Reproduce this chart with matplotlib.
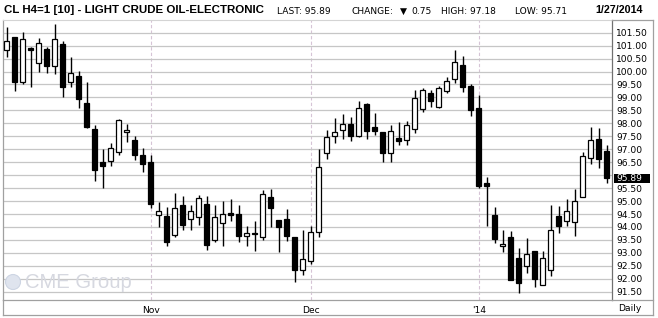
import numpy as np
import pandas as pd
import matplotlib
matplotlib.use("Agg")
import matplotlib.pyplot as plt
from matplotlib.patches import Rectangle, Circle
from matplotlib.lines import Line2D
import matplotlib.transforms as mtransforms
from matplotlib import font_manager as fm

# ---------------- data ----------------
holidays = ["2013-11-28", "2013-12-25", "2014-01-01", "2014-01-20"]
dates = [d for d in pd.bdate_range("2013-10-08", "2014-01-27") if d.strftime("%Y-%m-%d") not in holidays]

opens = [100.83, 101.32, 99.58, 100.90, 100.32, 100.86, 100.23, 101.06, 99.58, 99.83,
         98.77, 97.77, 96.50, 96.56, 96.91, 97.65, 97.36, 96.78, 96.50, 94.45,
         94.41, 93.68, 94.84, 94.30, 94.37, 94.89, 93.49, 94.15, 94.53, 94.50,
         93.64, 93.77, 93.60, 95.16, 94.26, 94.31, 93.60, 92.35, 92.70, 93.80,
         96.84, 97.50, 97.73, 97.96, 97.52, 98.75, 97.86, 97.67, 96.84, 97.43,
         97.34, 97.77, 98.54, 99.16, 98.62, 99.24, 99.70, 100.25, 99.43, 98.59,
         95.70, 94.46, 93.25, 93.61, 92.79, 92.49, 93.08, 91.75, 92.33, 94.42,
         94.24, 94.20, 95.17, 96.65, 97.40, 96.93]
highs = [101.73, 101.35, 101.53, 100.94, 101.28, 100.96, 101.84, 101.19, 100.55, 100.02,
         99.58, 97.92, 97.00, 97.23, 98.17, 97.96, 97.52, 97.05, 96.78, 94.97,
         94.77, 95.31, 95.20, 94.85, 95.24, 95.20, 94.85, 94.99, 95.07, 94.85,
         94.03, 94.22, 95.43, 95.46, 94.27, 94.69, 93.61, 93.87, 94.03, 97.01,
         97.74, 98.21, 98.36, 98.23, 98.86, 98.80, 98.40, 97.68, 97.92, 98.05,
         98.10, 99.29, 99.35, 99.28, 99.45, 99.80, 100.82, 100.59, 99.52, 99.09,
         95.94, 94.76, 93.87, 93.83, 93.18, 93.56, 93.09, 93.08, 94.85, 94.81,
         95.07, 95.47, 96.88, 97.85, 97.81, 97.18]
lows = [100.57, 99.24, 99.51, 99.42, 99.99, 99.96, 99.89, 99.03, 99.42, 98.60,
        97.81, 95.77, 95.52, 96.36, 96.78, 97.29, 96.58, 96.13, 94.74, 94.00,
        93.25, 93.62, 93.87, 93.90, 94.09, 93.12, 93.41, 93.28, 94.22, 93.41,
        93.25, 93.09, 93.49, 93.99, 93.05, 93.46, 91.87, 92.16, 92.58, 93.61,
        96.64, 97.25, 97.41, 97.31, 97.48, 97.38, 97.56, 96.52, 96.52, 97.18,
        97.15, 97.62, 98.45, 98.64, 98.58, 99.16, 99.57, 99.22, 98.30, 95.52,
        94.05, 93.39, 93.02, 91.95, 91.46, 92.21, 91.67, 91.74, 92.12, 93.75,
        94.05, 93.66, 95.14, 96.42, 96.26, 95.71]
closes = [101.19, 99.58, 101.25, 100.82, 101.11, 100.23, 101.25, 99.42, 99.96, 98.95,
          97.87, 96.20, 96.36, 97.05, 98.13, 97.74, 96.77, 96.44, 94.90, 94.61,
          93.41, 94.72, 94.09, 94.61, 95.11, 93.32, 94.37, 94.49, 94.45, 93.64,
          93.76, 93.72, 95.26, 94.75, 94.01, 93.66, 92.35, 92.75, 93.80, 96.30,
          97.46, 97.67, 97.96, 97.52, 98.58, 97.69, 97.72, 96.87, 97.69, 97.33,
          97.92, 98.97, 99.28, 98.85, 99.35, 99.62, 100.38, 99.40, 98.53, 95.59,
          95.59, 93.55, 93.34, 91.97, 91.85, 92.94, 91.98, 92.79, 93.87, 94.05,
          94.60, 94.99, 96.73, 97.36, 96.64, 95.89]

y_ticks = [91.5, 92.0, 92.5, 93.0, 93.5, 94.0, 94.5, 95.0, 95.5, 96.0, 96.5,
           97.0, 97.5, 98.0, 98.5, 99.0, 99.5, 100.0, 100.5, 101.0, 101.5]
month_labels = {11: "Nov", 12: "Dec", 1: "'14"}

title = "CL H4=1 [10] - LIGHT CRUDE OIL-ELECTRONIC"
last_price = 95.89
change = 0.75
day_high = 97.18
day_low = 95.71
date_label = "1/27/2014"

# ---------------- figure ----------------
W, H = 658, 318
fig = plt.figure(figsize=(W / 100, H / 100), dpi=100)
fig.patch.set_facecolor("white")

def fx(px):
    return px / W

def fy(py):
    return 1 - py / H

ax = fig.add_axes([fx(3), fy(300), fx(612) - fx(3), fy(20) - fy(300)])
ax.set_facecolor("white")

n = len(opens)
xs = np.arange(n)
ax.set_xlim(-0.4625, 75.66)
ax.set_ylim(91.18, 101.99)

# grid
ax.set_yticks(y_ticks)
ax.grid(axis="y", color="#c6c6c6", lw=0.9, zorder=0)
month_pos = [i for i in range(1, n) if dates[i].month != dates[i - 1].month]
for p in month_pos:
    ax.axvline(p, color="#d6c4d6", lw=0.8, ls=(0, (3, 2)), zorder=0.5)

# watermark (globe + text)
fig.patches.append(Circle((13 / 100, (H - 282) / 100), 0.075, transform=fig.dpi_scale_trans,
                          facecolor="#dfe4ee", edgecolor="#cdd5e3", lw=0.8, zorder=0.2))

# candles
bw = 0.625
for i in range(n):
    o, h, l, c = opens[i], highs[i], lows[i], closes[i]
    ax.vlines(xs[i], l, h, color="black", lw=1.0, zorder=3)
    up = c >= o
    bottom = min(o, c)
    height = max(abs(c - o), 0.04)
    ax.add_patch(Rectangle((xs[i] - bw / 2, bottom), bw, height,
                           facecolor="white" if up else "black",
                           edgecolor="black", lw=0.9, zorder=4))

# axis labels on the right
ax.yaxis.tick_right()
ax.set_yticklabels(["" if abs(v - last_price) < 0.3 else f"{v:.2f}" for v in y_ticks],
                   fontsize=6.6, family="DejaVu Sans")
ax.tick_params(axis="y", length=0, pad=3)
ax.set_xticks(month_pos)
ax.set_xticklabels([month_labels[dates[p].month] for p in month_pos],
                   fontsize=6.6, family="DejaVu Sans")
ax.tick_params(axis="x", length=0, pad=4)

for side in ["left", "bottom"]:
    ax.spines[side].set_color("#a0a0a0")
    ax.spines[side].set_linewidth(0.9)
ax.spines["right"].set_color("#707070")
ax.spines["right"].set_linewidth(0.9)
ax.spines["top"].set_color("#d4d4d4")
ax.spines["top"].set_linewidth(0.8)

# last price box
bt = mtransforms.blended_transform_factory(fig.transFigure, ax.transData)
box_h = 9 / 25.9
ax.add_patch(Rectangle((fx(614), last_price - box_h / 2), fx(650) - fx(614), box_h,
                       transform=bt, facecolor="black", edgecolor="none",
                       clip_on=False, zorder=6))
ax.text(fx(616.5), last_price, f"{last_price:.2f}", transform=bt, color="white",
        fontsize=6.6, family="DejaVu Sans", va="center", ha="left", zorder=7, clip_on=False)

# outer borders
for (x0, y0, x1, y1) in [(612, 300, 652.5, 300), (652.5, 20, 652.5, 315),
                         (3, 315, 652.5, 315), (3, 300, 3, 315), (612, 20, 652.5, 20)]:
    fig.add_artist(Line2D([fx(x0), fx(x1)], [fy(y0), fy(y1)], color="#a0a0a0", lw=0.9))

fig.text(fx(630), fy(308.5), "Daily", fontsize=6.6, family="DejaVu Sans",
         ha="center", va="center")

# header texts
names = {f.name for f in fm.fontManager.ttflist}
title_font = "Liberation Sans Narrow" if "Liberation Sans Narrow" in names else "Liberation Sans"
renderer = fig.canvas.get_renderer()

def fit_text(s, x0, x1, yc, size, **kw):
    t = fig.text(fx(x0), fy(yc), s, fontsize=size, ha="left", va="center", **kw)
    bb = t.get_window_extent(renderer)
    t.set_fontsize(size * (x1 - x0) / bb.width)
    return t

fit_text(title, 4, 262, 10, 10, family=title_font, weight="bold")
small = dict(fontsize=6.6, family="DejaVu Sans", ha="left", va="center")
fig.text(fx(277), fy(11), f"LAST: {last_price:.2f}", **small)
fig.text(fx(351), fy(11), "CHANGE:", **small)
fig.text(fx(400), fy(11), "\u25bc", **small)
fig.text(fx(411), fy(11), f"{change:.2f}", **small)
fig.text(fx(441), fy(11), f"HIGH: {day_high:.2f}", **small)
fig.text(fx(515), fy(11), f"LOW: {day_low:.2f}", **small)
fit_text(date_label, 595, 643, 10, 8.5, family="Liberation Sans", weight="bold")
fit_text("CME Group", 25, 132, 282, 12.5, family="Liberation Sans", color="#d6d8e0", zorder=0.3)

fig.savefig("out.png", dpi=100, facecolor="white")
